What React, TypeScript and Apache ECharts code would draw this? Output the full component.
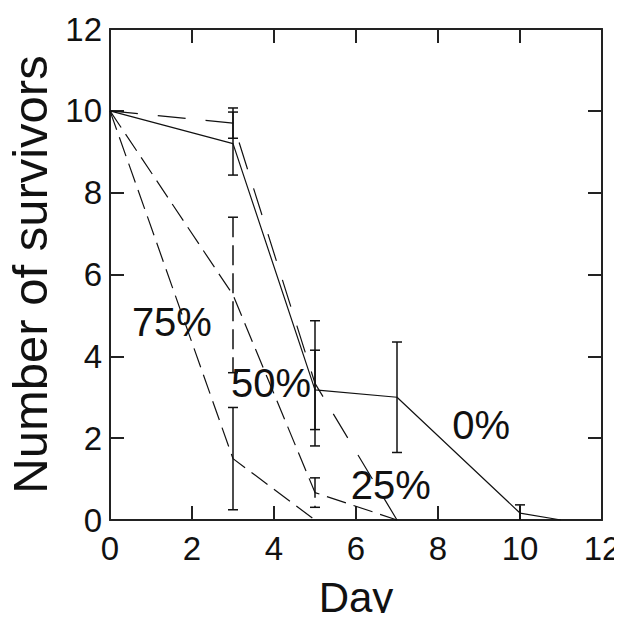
import React, { useEffect, useRef } from "react";
import * as echarts from "echarts";

const xTicks = [0, 2, 4, 6, 8, 10, 12];
const yTicks = [0, 2, 4, 6, 8, 10, 12];

// 0% series
const days0 = [0, 3, 5, 7, 10, 11];
const mean0 = [10, 9.2, 3.18, 3.0, 0.17, 0];
const errDays0 = [3, 5, 7, 10];
const err0 = [0.77, 0.97, 1.35, 0.2];
const errMean0 = [9.2, 3.18, 3.0, 0.17];

// 25% series
const days25 = [0, 3, 5, 7];
const mean25 = [10, 9.7, 3.34, 0];
const errDays25 = [3, 5];
const errMean25 = [9.7, 3.34];
const err25 = [0.37, 1.53];

// 50% series
const days50 = [0, 3, 5, 7];
const mean50 = [10, 5.5, 0.67, 0];
const errDays50 = [3, 5];
const errMean50 = [5.5, 0.67];
const err50 = [1.9, 0.36];

// 75% series
const days75 = [0, 3, 5];
const mean75 = [10, 1.5, 0];
const errDays75 = [3];
const errMean75 = [1.5];
const err75 = [1.25];

const labelNames = ["75%", "50%", "25%", "0%"];
const labelX = [1.51, 3.93, 6.85, 9.05];
const labelY = [4.84, 3.35, 0.86, 2.32];

const FONT = "'Liberation Sans', Arial, Helvetica, sans-serif";

function zip(xs: number[], ys: number[]) {
  return xs.map((x, i) => [x, ys[i]]);
}
function zip3(xs: number[], ys: number[], es: number[]) {
  return xs.map((x, i) => [x, ys[i], es[i]]);
}

function errorSeries(data: number[][], dash: number[] | null) {
  return {
    type: "custom",
    clip: true,
    z: 3,
    data,
    renderItem: (params: any, api: any) => {
      const x = api.value(0);
      const m = api.value(1);
      const e = api.value(2);
      const top = api.coord([x, m + e]);
      const bot = api.coord([x, m - e]);
      const hw = 5;
      const style: any = { stroke: "#111", lineWidth: 1.5 };
      const vstyle: any = dash ? { ...style, lineDash: dash } : style;
      return {
        type: "group",
        children: [
          { type: "line", shape: { x1: top[0], y1: top[1], x2: bot[0], y2: bot[1] }, style: vstyle },
          { type: "line", shape: { x1: top[0] - hw, y1: top[1], x2: top[0] + hw, y2: top[1] }, style },
          { type: "line", shape: { x1: bot[0] - hw, y1: bot[1], x2: bot[0] + hw, y2: bot[1] }, style },
        ],
      };
    },
  };
}

function lineSeries(data: number[][], dash: any) {
  return {
    type: "line",
    data,
    symbol: "none",
    z: 4,
    lineStyle: { color: "#111", width: 1.2, type: dash },
  };
}

export default function App() {
  const ref = useRef<HTMLDivElement>(null);
  useEffect(() => {
    if (!ref.current) return;
    const chart = echarts.init(ref.current, null, { renderer: "svg" });
    const axisLine = { show: true, onZero: false, lineStyle: { color: "#222", width: 2 } };
    const axisTick = { show: true, inside: true, length: 14, lineStyle: { color: "#222", width: 2 } };
    chart.setOption({
      animation: false,
      backgroundColor: "#fff",
      grid: { left: 110, right: 20, top: 29, bottom: 101, containLabel: false, outerBoundsMode: "none" },
      xAxis: [
        {
          type: "value",
          min: 0,
          max: 12,
          interval: 2,
          position: "bottom",
          axisLine,
          axisTick,
          splitLine: { show: false },
          axisLabel: {
            color: "#111",
            fontSize: 33,
            fontFamily: FONT,
            margin: 12,
            formatter: (v: number) => (xTicks.includes(v) ? String(v) : ""),
          },
          name: "Day",
          nameLocation: "middle",
          nameGap: 56,
          nameTextStyle: { color: "#111", fontSize: 42, fontFamily: FONT },
        },
        {
          type: "value",
          min: 0,
          max: 12,
          interval: 2,
          position: "top",
          axisLine,
          axisTick,
          splitLine: { show: false },
          axisLabel: { show: false },
        },
      ],
      yAxis: [
        {
          type: "value",
          min: 0,
          max: 12,
          interval: 2,
          position: "left",
          axisLine,
          axisTick,
          splitLine: { show: false },
          axisLabel: {
            color: "#111",
            fontSize: 33,
            fontFamily: FONT,
            margin: 8,
            formatter: (v: number) => (yTicks.includes(v) ? String(v) : ""),
          },
          name: "Number of survivors",
          nameLocation: "middle",
          nameGap: 36,
          nameTextStyle: { color: "#111", fontSize: 49, fontFamily: FONT },
        },
        {
          type: "value",
          min: 0,
          max: 12,
          interval: 2,
          position: "right",
          axisLine,
          axisTick,
          splitLine: { show: false },
          axisLabel: { show: false },
        },
      ],
      series: [
        lineSeries(zip(days0, mean0), "solid"),
        lineSeries(zip(days25, mean25), [28, 20]),
        lineSeries(zip(days50, mean50), [20, 8]),
        lineSeries(zip(days75, mean75), [20, 8]),
        errorSeries(zip3(errDays0, errMean0, err0), null),
        errorSeries(zip3(errDays25, errMean25, err25), null),
        errorSeries(zip3(errDays50, errMean50, err50), [20, 8]),
        errorSeries(zip3(errDays75, errMean75, err75), null),
        {
          type: "scatter",
          symbolSize: 0,
          z: 5,
          itemStyle: { opacity: 1, color: "#111" },
          data: labelNames.map((n, i) => ({ name: n, value: [labelX[i], labelY[i]] })),
          label: {
            show: true,
            position: "inside",
            formatter: (p: any) => p.name,
            color: "#111",
            opacity: 1,
            fontSize: 40,
            fontFamily: FONT,
          },
        },
      ],
    });
    return () => chart.dispose();
  }, []);
  return <div ref={ref} style={{ width: 622, height: 621, margin: -8 }} />;
}
